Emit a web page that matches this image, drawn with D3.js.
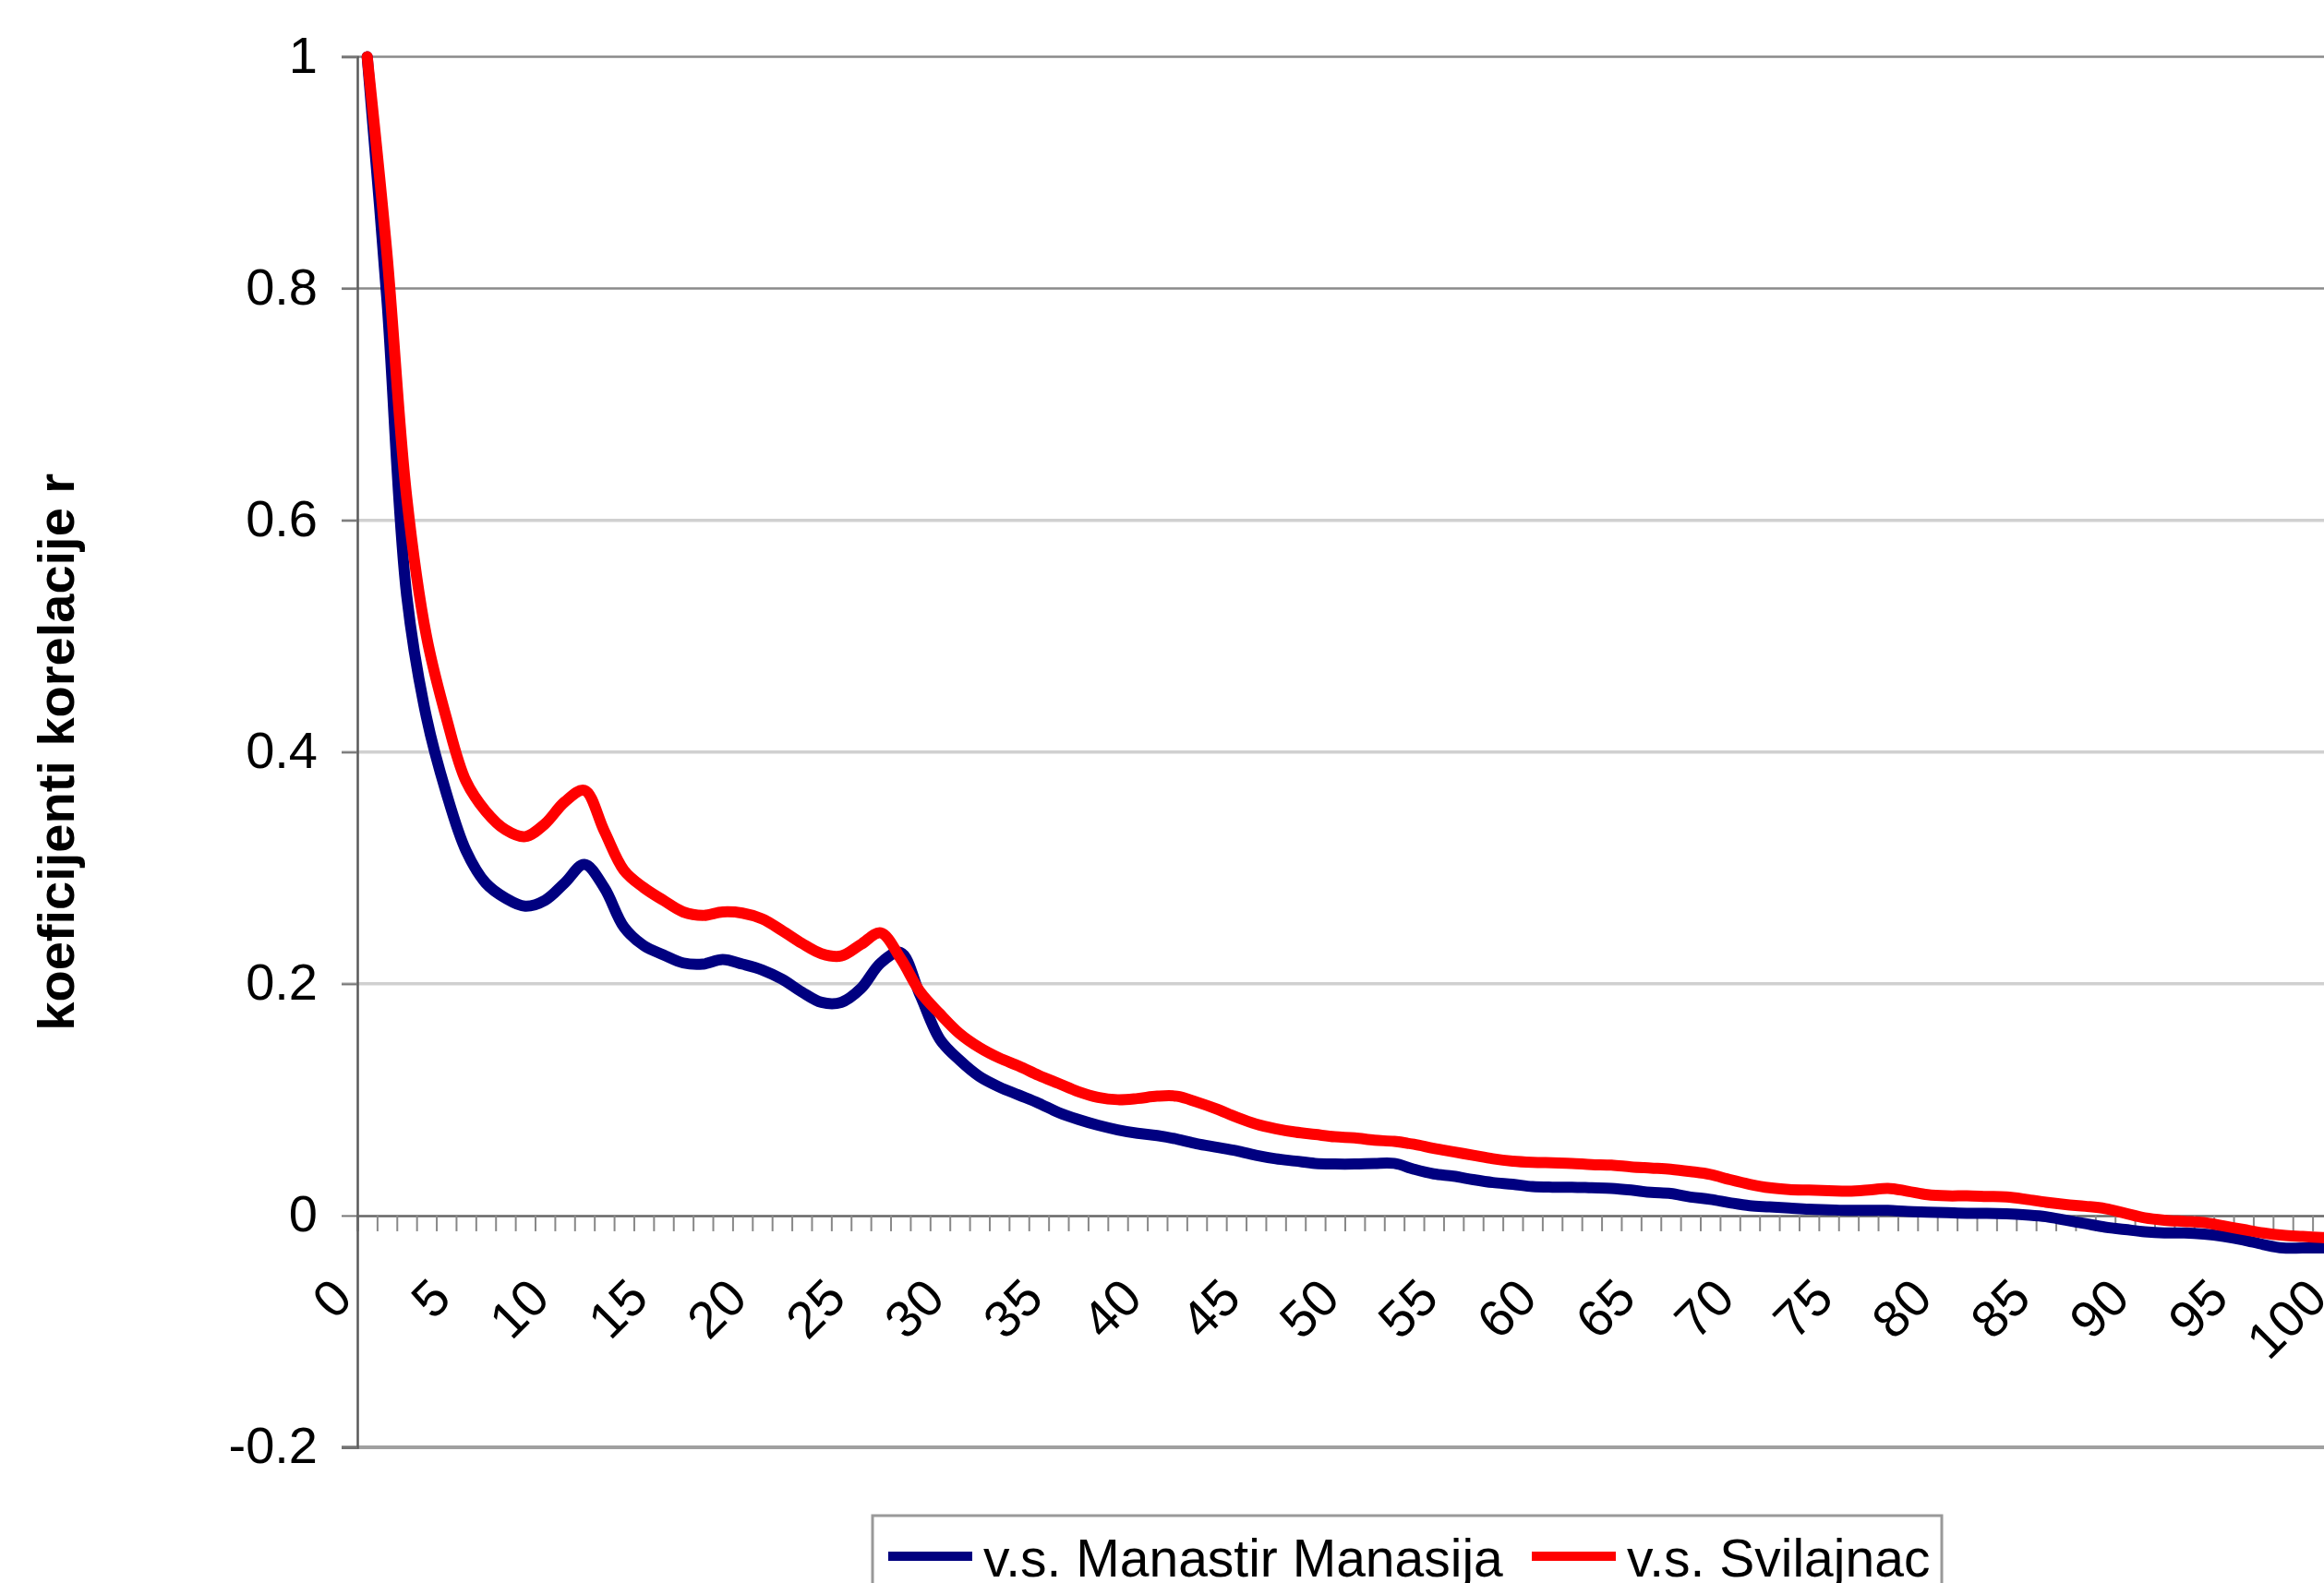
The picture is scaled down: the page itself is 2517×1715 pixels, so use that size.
<!DOCTYPE html>
<html>
<head>
<meta charset="utf-8">
<script src="https://cdn.jsdelivr.net/npm/d3@7"></script>
<style>
  html, body { margin: 0; padding: 0; background: #fff; overflow: hidden; }
  svg { display: block; }
  text { font-family: "Liberation Sans", Arial, sans-serif; fill: #000; }
</style>
</head>
<body>
<svg id="chart" width="2517" height="1715"></svg>
<script>
// ---- data ----
const categories = d3.range(0, 101);
const xTickLabels = d3.range(0, 101, 5);
const yTickValues = [-0.2, 0, 0.2, 0.4, 0.6, 0.8, 1];
const yTickLabels = ["-0.2", "0", "0.2", "0.4", "0.6", "0.8", "1"];
const seriesNames = ["v.s. Manastir Manasija", "v.s. Svilajnac"];
const manasija = [
  1.000, 0.790, 0.535, 0.430, 0.365, 0.315, 0.287, 0.274, 0.267, 0.272,
  0.287, 0.303, 0.283, 0.249, 0.233, 0.225, 0.218, 0.217, 0.221, 0.217,
  0.212, 0.204, 0.193, 0.184, 0.184, 0.196, 0.218, 0.227, 0.190, 0.152,
  0.134, 0.120, 0.111, 0.104, 0.097, 0.089, 0.083, 0.078, 0.074, 0.071,
  0.069, 0.066, 0.062, 0.059, 0.056, 0.052, 0.049, 0.047, 0.045, 0.0445,
  0.0445, 0.045, 0.045, 0.040, 0.036, 0.034, 0.031, 0.0285, 0.027, 0.025,
  0.0245, 0.0245, 0.024, 0.0235, 0.022, 0.020, 0.019, 0.016, 0.014, 0.011,
  0.0085, 0.0075, 0.0065, 0.0055, 0.005, 0.0045, 0.0045, 0.0045, 0.0035, 0.003,
  0.0025, 0.002, 0.002, 0.0015, 0.0005, -0.001, -0.004, -0.007, -0.010, -0.012,
  -0.014, -0.015, -0.015, -0.016, -0.018, -0.021, -0.025, -0.028, -0.028, -0.028,
  -0.028
];
const svilajnac = [
  1.000, 0.830, 0.620, 0.500, 0.430, 0.375, 0.349, 0.333, 0.327, 0.338,
  0.357, 0.367, 0.332, 0.298, 0.283, 0.272, 0.262, 0.259, 0.262, 0.261,
  0.256, 0.246, 0.235, 0.226, 0.224, 0.234, 0.244, 0.222, 0.193, 0.174,
  0.157, 0.145, 0.136, 0.129, 0.121, 0.114, 0.107, 0.102, 0.100, 0.101,
  0.103, 0.103, 0.098, 0.092, 0.085, 0.079, 0.075, 0.072, 0.070, 0.068,
  0.067, 0.065, 0.064, 0.0615, 0.058, 0.055, 0.052, 0.049, 0.047, 0.046,
  0.0455, 0.045, 0.044, 0.0435, 0.042, 0.041, 0.040, 0.038, 0.0355, 0.031,
  0.027, 0.024, 0.0225, 0.022, 0.0215, 0.021, 0.022, 0.0235, 0.021, 0.018,
  0.017, 0.017, 0.0165, 0.016, 0.014, 0.0115, 0.0095, 0.008, 0.006, 0.002,
  -0.002, -0.004, -0.005, -0.006, -0.009, -0.012, -0.015, -0.017, -0.018, -0.019,
  -0.020
];
const seriesColors = ["#000080", "#ff0000"];
const yTitle = "koeficijenti korelacije r";

// ---- layout ----
const svg = d3.select("#chart");
svg.append("rect").attr("width", 2517).attr("height", 1715).attr("fill", "#fff");

const plotLeft = 387, plotTop = 61.5, plotBottom = 1568;
const catW = 21.39;
const plotRight = plotLeft + categories.length * catW;

const x = d3.scaleBand().domain(categories).range([plotLeft, plotRight]).padding(0);
const xb = d3.scaleLinear().domain([0, categories.length]).range([plotLeft, plotRight]);
const y = d3.scaleLinear().domain([-0.2, 1]).range([plotBottom, plotTop]);
const FS = 56;

// gridlines
const grid = svg.append("g");
[0.2, 0.4, 0.6, 0.8, 1].forEach(v => {
  const dark = v >= 0.8;
  grid.append("line")
    .attr("x1", plotLeft - 17).attr("x2", plotRight)
    .attr("y1", y(v)).attr("y2", y(v))
    .attr("stroke", dark ? "#8a8a8a" : "#d0d0d0")
    .attr("stroke-width", dark ? 2.5 : 3.5);
});
// bottom border of the plot
grid.append("line")
  .attr("x1", plotLeft - 17).attr("x2", plotRight)
  .attr("y1", y(-0.2)).attr("y2", y(-0.2))
  .attr("stroke", "#a0a0a0").attr("stroke-width", 4);

// y axis
const yAxis = svg.append("g")
  .attr("transform", `translate(${plotLeft},0)`)
  .call(d3.axisLeft(y).tickValues(yTickValues).tickSize(17).tickPadding(26)
    .tickFormat((d, i) => yTickLabels[i]));
yAxis.select(".domain").attr("stroke", "#5a5a5a").attr("stroke-width", 2.5);
yAxis.selectAll(".tick line").attr("stroke", "#777").attr("stroke-width", 2);
yAxis.selectAll(".tick text")
  .attr("font-size", FS).attr("font-family", "Liberation Sans, Arial, sans-serif")
  .attr("fill", "#000").attr("dy", "0.3em");

// x axis (at y = 0) with ticks at category boundaries
const xAxis = svg.append("g")
  .attr("transform", `translate(0,${y(0)})`)
  .call(d3.axisBottom(xb).tickValues(d3.range(1, categories.length + 1)).tickSize(17).tickFormat(""));
xAxis.select(".domain").attr("stroke", "#666").attr("stroke-width", 2.5);
xAxis.selectAll(".tick line").attr("stroke", "#888").attr("stroke-width", 2);

// x labels rotated
svg.append("g").selectAll("text").data(xTickLabels).join("text")
  .attr("transform", d => `translate(${x(d) + x.bandwidth() / 2 - 28},${y(0) + 78}) rotate(-45)`)
  .attr("text-anchor", "end")
  .attr("dy", "0.36em")
  .attr("font-size", FS)
  .text(d => d);

// lines
const line = d3.line()
  .x((d, i) => x(categories[i]) + x.bandwidth() / 2)
  .y(d => y(d))
  .curve(d3.curveCatmullRom.alpha(0.5));
[manasija, svilajnac].forEach((s, i) => {
  svg.append("path").datum(s)
    .attr("d", line)
    .attr("fill", "none")
    .attr("stroke", seriesColors[i])
    .attr("stroke-width", 12)
    .attr("stroke-linejoin", "round")
    .attr("stroke-linecap", "round");
});

// y title
svg.append("text")
  .attr("transform", `translate(80,${(plotTop + plotBottom) / 2}) rotate(-90)`)
  .attr("text-anchor", "middle")
  .attr("font-size", FS)
  .attr("font-weight", "bold")
  .text(yTitle);

// legend
const legend = svg.append("g");
legend.append("rect")
  .attr("x", 945).attr("y", 1642).attr("width", 1158).attr("height", 120)
  .attr("fill", "#fff").attr("stroke", "#999").attr("stroke-width", 3);
const legX = [962, 1659];
seriesNames.forEach((n, i) => {
  legend.append("line")
    .attr("x1", legX[i]).attr("x2", legX[i] + 91)
    .attr("y1", 1686).attr("y2", 1686)
    .attr("stroke", seriesColors[i]).attr("stroke-width", 10);
  legend.append("text")
    .attr("x", legX[i] + 103).attr("y", 1708)
    .attr("font-size", 57)
    .text(n);
});
</script>
</body>
</html>
